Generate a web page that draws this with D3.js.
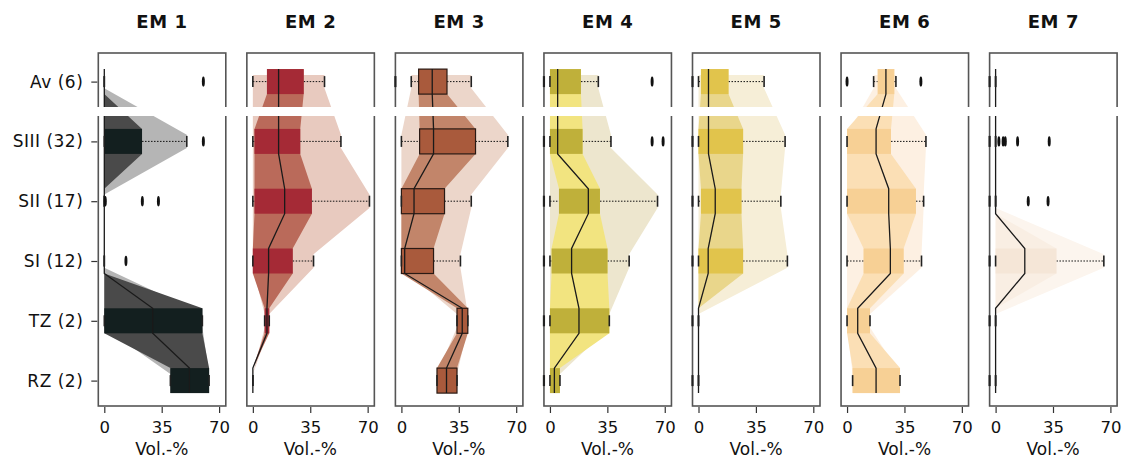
<!DOCTYPE html>
<html><head><meta charset="utf-8">
<script src="https://cdn.jsdelivr.net/npm/d3@7"></script>
<style>body{margin:0;background:#fff}svg{display:block}</style>
</head><body>
<script>
const categories = ["Av (6)","SIII (32)","SII (17)","SI (12)","TZ (2)","RZ (2)"];
const titles = ["EM 1","EM 2","EM 3","EM 4","EM 5","EM 6","EM 7"];
const xTicks = [0, 35, 70];
const xLabel = "Vol.-%";

// per panel (EM1..EM7), per category (Av, SIII, SII, SI, TZ, RZ)
const lowWhisker = [
  [0,0,0,0,0,40.3],
  [0,0,0,0,7.2,0],
  [6,0,0,0,33.9,21.7],
  [0,0,0,0,0,0],
  [0,0,0,0,0,0],
  [16.2,0,0,0,0,3.4],
  [0,0,0,0,0,0]
];
const lowerQuartile = [
  [0,0,0,0,0,40.3],
  [8.6,1,1,0,7.2,0],
  [10.5,11.1,0,0,33.9,21.7],
  [0,0,5.5,1,0,0],
  [1.5,0,1.5,0,0,0],
  [18.7,0,0,10.1,0,3.4],
  [0,0,0,0,0,0]
];
const medianValues = [
  [0,0,0,0,29.5,51.9],
  [15.7,15.7,19.4,9.6,8.6,0],
  [18.8,19.6,7.7,2,37.1,27.5],
  [4.7,4.7,23.4,13.2,17.7,2.7],
  [6.1,6.1,10.2,5.9,0,0],
  [23.7,17.7,25.4,26.4,6.5,17.7],
  [0,0,0,17.8,0,0]
];
const upperQuartile = [
  [0,23,0,0,59.8,63.9],
  [31,28.9,36,24.3,10,0],
  [27.8,45.2,26.3,19.6,40.5,33.9],
  [18.9,19.9,30.5,35.1,36.2,6.1],
  [18.3,27.2,26.2,27.2,0,0],
  [28.8,26.8,42,34.5,14,32.3],
  [0,0,0,37.1,0,0]
];
const highWhisker = [
  [0,50.3,0,0,59.8,63.9],
  [43.7,53.7,71.1,37,10,0],
  [42.6,64.9,42.6,36,40.5,33.9],
  [29.5,37.2,65.6,48.3,36.2,6.1],
  [40,52.8,50.2,54.2,0,0],
  [29.8,48.1,46.7,45.4,14,32.3],
  [0,0,0,66,0,0]
];
const outlierValues = [
  [[60.4],[60.4],[0.6,23.2,33],[13.2],[],[]],
  [[],[],[],[],[],[]],
  [[],[],[],[],[],[]],
  [[62.3],[62.3,69],[],[],[],[]],
  [[],[],[],[],[],[]],
  [[0,45],[],[],[],[],[]],
  [[],[2,4.6,5.9,13.4,32.7],[19.9,32],[],[],[]]
];

const boxColors   = ["#131f1f","#a52a36","#a95a3c","#bfb03a","#e1c44c","#f7d095","#f5e6d7"];
const innerColors = ["#4a4a4a","#ba6a5a","#c2856a","#f2e480","#e9d68b","#fbdfb5","#f9eee3"];
const outerColors = ["#b5b5b5","#e8cabf","#ecd6ca","#ede6ce","#f6eed7","#fdf0e2","#fcf5ee"];

const W = 1123, H = 459;
const svg = d3.select("body").append("svg").attr("width", W).attr("height", H);
const font = "DejaVu Sans, Verdana, sans-serif";

const y = d3.scalePoint().domain(categories).range([81.6, 380.6]);
const frameTop = 53, frameBottom = 406;
const boxH = 25, outerH = 13.4;

titles.forEach((title, p) => {
  const zero = 104.3 + p * 148.55;
  const x = d3.scaleLinear().domain([0, 70]).range([zero, zero + 114.8]);
  const fl = zero - 6, fw = 127.5;
  const g = svg.append("g");

  const rows = categories.map((c, j) => ({
    c, yc: y(c),
    lo: lowWhisker[p][j], q1: lowerQuartile[p][j], med: medianValues[p][j],
    q3: upperQuartile[p][j], hi: highWhisker[p][j], out: outlierValues[p][j]
  }));

  // outer band
  const outerPts = rows.flatMap(r => [{y: r.yc - outerH/2, a: r.lo, b: r.hi}, {y: r.yc + outerH/2, a: r.lo, b: r.hi}]);
  g.append("path")
    .attr("d", d3.area().y(d => d.y).x0(d => x(d.a)).x1(d => x(d.b))(outerPts))
    .attr("fill", outerColors[p]);

  // inner band
  const innerPts = rows.flatMap(r => [{y: r.yc - boxH/2, a: r.q1, b: r.q3}, {y: r.yc + boxH/2, a: r.q1, b: r.q3}]);
  g.append("path")
    .attr("d", d3.area().y(d => d.y).x0(d => x(d.a)).x1(d => x(d.b))(innerPts))
    .attr("fill", innerColors[p]);

  // whiskers (dotted)
  rows.forEach(r => {
    if (r.hi > r.q3) g.append("line").attr("x1", x(r.q3)).attr("x2", x(r.hi)).attr("y1", r.yc).attr("y2", r.yc)
      .attr("stroke", "#111").attr("stroke-width", 1).attr("stroke-dasharray", "1.5,1.5");
    if (r.lo < r.q1) g.append("line").attr("x1", x(r.lo)).attr("x2", x(r.q1)).attr("y1", r.yc).attr("y2", r.yc)
      .attr("stroke", "#111").attr("stroke-width", 1).attr("stroke-dasharray", "1.5,1.5");
  });

  // boxes
  g.selectAll("rect.box").data(rows).join("rect").attr("class", "box")
    .attr("x", r => x(r.q1)).attr("width", r => x(r.q3) - x(r.q1))
    .attr("y", r => r.yc - boxH/2).attr("height", boxH)
    .attr("fill", boxColors[p])
    .attr("stroke", p === 2 ? "#2a1a14" : "none").attr("stroke-width", p === 2 ? 1.2 : 0);

  // median line
  const medPts = rows.flatMap(r => [[x(r.med), r.yc - boxH/2], [x(r.med), r.yc + boxH/2]]);
  g.append("path").attr("d", d3.line()(medPts)).attr("fill", "none")
    .attr("stroke", "#1a1a1a").attr("stroke-width", 1.3);

  // whisker caps
  rows.forEach(r => {
    [r.lo, r.hi].forEach(v => {
      g.append("line").attr("x1", x(v)).attr("x2", x(v)).attr("y1", r.yc - 5.5).attr("y2", r.yc + 5.5)
        .attr("stroke", "#222").attr("stroke-width", 1.6);
    });
  });

  // outliers
  rows.forEach(r => {
    r.out.forEach(v => {
      g.append("ellipse").attr("cx", x(v)).attr("cy", r.yc).attr("rx", 1.5).attr("ry", 5.2).attr("fill", "#111");
    });
  });

  // frame
  g.append("rect").attr("x", fl).attr("y", frameTop).attr("width", fw).attr("height", frameBottom - frameTop)
    .attr("fill", "none").attr("stroke", "#555").attr("stroke-width", 1.6);

  // marks on the left frame
  if (p >= 3 && p !== 5) {
    rows.forEach(r => g.append("line").attr("x1", fl).attr("x2", fl).attr("y1", r.yc - 5.5).attr("y2", r.yc + 5.5)
      .attr("stroke", "#222").attr("stroke-width", 2.2));
  } else if (p === 2) {
    g.append("line").attr("x1", fl).attr("x2", fl).attr("y1", rows[0].yc - 5.5).attr("y2", rows[0].yc + 5.5)
      .attr("stroke", "#222").attr("stroke-width", 2.2);
  }

  // white gap across panel
  g.append("rect").attr("x", fl - 2).attr("y", 107).attr("width", fw + 4).attr("height", 9).attr("fill", "#fff");

  // bottom axis
  const ax = g.append("g").attr("transform", `translate(0,${frameBottom + 1})`)
    .call(d3.axisBottom(x).tickValues(xTicks).tickSize(6).tickPadding(8));
  ax.select(".domain").remove();
  ax.selectAll(".tick line").attr("stroke", "#333").attr("stroke-width", 1.2);
  ax.selectAll(".tick text").attr("font-family", font).attr("font-size", 16.5).attr("fill", "#111");

  g.append("text").attr("x", zero + 57.5).attr("y", 450).attr("text-anchor", "middle")
    .attr("dominant-baseline", "middle").attr("font-family", font).attr("font-size", 17).attr("fill", "#111")
    .text(xLabel);

  g.append("text").attr("x", fl + fw/2).attr("y", 23).attr("text-anchor", "middle")
    .attr("dominant-baseline", "middle").attr("font-family", font).attr("font-size", 18)
    .attr("letter-spacing", 0.6)
    .attr("font-weight", "bold").attr("fill", "#111").text(title);

  if (p === 0) {
    const ya = g.append("g").attr("transform", `translate(${fl - 1},0)`)
      .call(d3.axisLeft(y).tickSize(6).tickPadding(8));
    ya.select(".domain").remove();
    ya.selectAll(".tick line").attr("stroke", "#333").attr("stroke-width", 1.2);
    ya.selectAll(".tick text").attr("font-family", font).attr("font-size", 17)
      .attr("letter-spacing", 0.5).attr("fill", "#111");
  }
});
</script>
</body></html>
